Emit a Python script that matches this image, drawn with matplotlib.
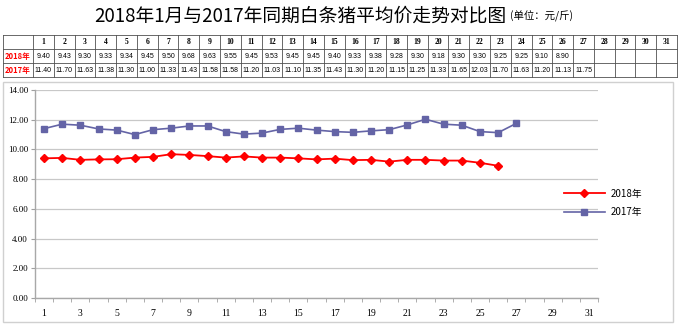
import matplotlib
matplotlib.use("Agg")
import matplotlib.pyplot as plt
from matplotlib.patches import Rectangle

plt.rcParams['font.family'] = ['Noto Sans CJK SC', 'DejaVu Sans']

title = "2018年1月与2017年同期白条猪平均价走势对比图"
unit = "(单位：元/斤)"
days = list(range(1, 32))
label_2018 = "2018年"
label_2017 = "2017年"
price_2018 = [9.40, 9.43, 9.30, 9.33, 9.34, 9.45, 9.50, 9.68, 9.63, 9.55,
              9.45, 9.53, 9.45, 9.45, 9.40, 9.33, 9.38, 9.28, 9.30, 9.18,
              9.30, 9.30, 9.25, 9.25, 9.10, 8.90]
price_2017 = [11.40, 11.70, 11.63, 11.38, 11.30, 11.00, 11.33, 11.43, 11.58, 11.58,
              11.20, 11.03, 11.10, 11.35, 11.43, 11.30, 11.20, 11.15, 11.25, 11.33,
              11.65, 12.03, 11.70, 11.63, 11.20, 11.13, 11.75]
yticks = [0, 2, 4, 6, 8, 10, 12, 14]

RED = '#FF0000'
BLUE = '#6464A6'
W, H = 680, 327

fig = plt.figure(figsize=(W / 100, H / 100), dpi=100)

# ---- overlay axes in pixel coordinates for title, table, frame ----
ov = fig.add_axes([0, 0, 1, 1])
ov.set_xlim(0, W)
ov.set_ylim(H, 0)
ov.axis('off')

t = ov.text(94, 16, title, fontsize=13.5, ha='left', va='center', color='black')
ov.annotate(unit, xy=(1, 0.2), xycoords=t, xytext=(3, 0), textcoords='offset points',
            fontsize=7.5, ha='left', va='bottom', color='#000000')

# table
x0, x1, xr = 3, 33, 677
rows = [35, 49, 63, 77]
cw = (xr - x1) / len(days)
lc = '#505050'
for y in rows:
    ov.plot([x0, xr], [y, y], color=lc, lw=0.6)
ov.plot([x0, x0], [rows[0], rows[-1]], color=lc, lw=0.6)
ov.plot([x1, x1], [rows[0], rows[-1]], color=lc, lw=0.6)
for i in range(len(days)):
    xx = x1 + (i + 1) * cw
    ov.plot([xx, xx], [rows[0], rows[-1]], color=lc, lw=0.6)

def rc(r):
    return (rows[r] + rows[r + 1]) / 2

for i, d in enumerate(days):
    cx = x1 + (i + 0.5) * cw
    ov.text(cx, rc(0), str(d), fontsize=5.5, fontweight='bold', ha='center', va='center',
            family='Liberation Serif')
for i, v in enumerate(price_2018):
    cx = x1 + (i + 0.5) * cw
    ov.text(cx, rc(1), f"{v:.2f}", fontsize=5, ha='center', va='center', family='Liberation Sans')
for i, v in enumerate(price_2017):
    cx = x1 + (i + 0.5) * cw
    ov.text(cx, rc(2), f"{v:.2f}", fontsize=5, ha='center', va='center', family='Liberation Sans')
ov.text((x0 + x1) / 2, rc(1), label_2018, fontsize=5.5, fontweight='bold', color=RED,
        ha='center', va='center')
ov.text((x0 + x1) / 2, rc(2), label_2017, fontsize=5.5, fontweight='bold', color=RED,
        ha='center', va='center')

# chart frame
ov.add_patch(Rectangle((3, 82), 670, 240, fill=False, edgecolor='#D0D0D0', lw=1))

# ---- chart axes ----
L, R, T, B = 35, 598, 90, 298
ax = fig.add_axes([L / W, (H - B) / H, (R - L) / W, (B - T) / H])
ax.set_zorder(2)
ax.patch.set_alpha(0)

ax.plot(days[:len(price_2018)], price_2018, color=RED, lw=1.3, marker='D', ms=3.8,
        label=label_2018)
ax.plot(days[:len(price_2017)], price_2017, color=BLUE, lw=1.2, marker='s', ms=4.2,
        label=label_2017)

ax.set_xlim(0.5, len(days) + 0.5)
ax.set_ylim(0, 14)
ax.set_yticks(yticks)
ax.set_yticklabels([f"{v:.2f}" for v in yticks], family='Liberation Serif', fontsize=6.5)
ax.yaxis.grid(True, color='#C8C8C8', lw=0.9)
ax.set_axisbelow(True)

ax.set_xticks(days[::2])
ax.set_xticklabels([str(d) for d in days[::2]], family='Liberation Serif', fontsize=7)
ax.set_xticks([d + 0.5 for d in [0] + days], minor=True)
ax.tick_params(axis='x', which='major', length=0, pad=8)
ax.tick_params(axis='x', which='minor', length=3, color='#A0A0A0', direction='out')
ax.tick_params(axis='y', length=3, color='#A0A0A0', pad=2)

for s in ['top', 'right']:
    ax.spines[s].set_visible(False)
for s in ['left', 'bottom']:
    ax.spines[s].set_color('#A8A8A8')
    ax.spines[s].set_linewidth(1)

leg = ax.legend(loc='center left', bbox_to_anchor=(555 / W, (H - 203) / H),
                bbox_transform=fig.transFigure, frameon=False, fontsize=7,
                handlelength=4.2, labelspacing=0.9, handletextpad=0.6)

fig.savefig('out.png', dpi=100)
